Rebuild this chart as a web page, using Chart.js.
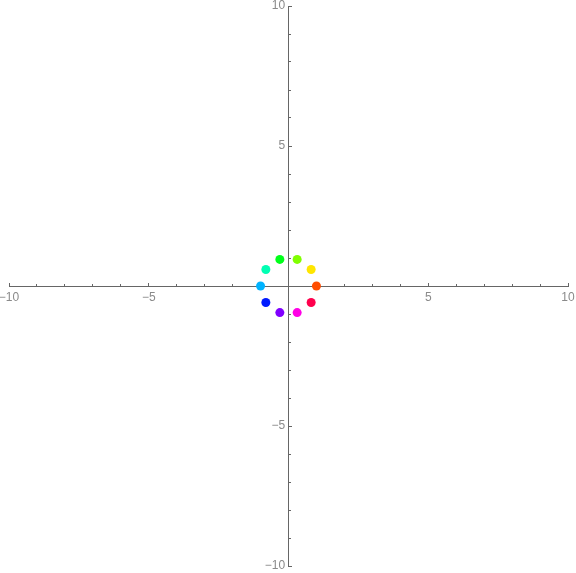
<!DOCTYPE html>
<html>
<head>
<meta charset="utf-8">
<script src="https://cdn.jsdelivr.net/npm/chart.js@4"></script>
<style>
  html, body { margin: 0; padding: 0; background: #fff; }
  #wrap { width: 576px; height: 573px; }
</style>
</head>
<body>
<div id="wrap"><canvas id="plot"></canvas></div>
<script>
// points (10 dots on the unit circle)
const xs = [1, 0.81, 0.31, -0.31, -0.81, -1, -0.81, -0.31, 0.31, 0.81];
const ys = [0, 0.59, 0.95, 0.95, 0.59, 0, -0.59, -0.95, -0.95, -0.59];
const dotColors = ['#ff4d00', '#ffe600', '#80ff00', '#00ff1a', '#00ffb3',
                   '#00b3ff', '#001aff', '#8000ff', '#ff00e6', '#ff004d'];

const axisMin = -10;
const axisMax = 10;
const tickValues = [-10, -5, 5, 10];
const tickLabels = ['\u221210', '\u22125', '5', '10'];

const axisColor = '#666666';
const labelColor = '#8a8a8a';

function labelFor(v, trail) {
    const i = tickValues.indexOf(v);
    return i >= 0 ? tickLabels[i] + trail : '';
}

const points = xs.map((x, i) => ({x: x, y: ys[i]}));

// axes cross at the origin; label padding must not shrink the plot
const noPad = s => { s.paddingLeft = 0; s.paddingRight = 0; s.paddingTop = 0; s.paddingBottom = 0; };

const makeScale = (axis, pos, len, showLabels) => ({
    type: 'linear',
    axis: axis,
    position: pos,
    min: axisMin,
    max: axisMax,
    afterFit: noPad,
    border: {display: showLabels, color: axisColor, width: 1},
    grid: {
        drawOnChartArea: false,
        drawTicks: true,
        tickLength: len,
        tickColor: ctx => (ctx.tick && ctx.tick.value === 0) ? 'rgba(0,0,0,0)' : axisColor,
        tickWidth: 1
    },
    ticks: {
        display: showLabels,
        stepSize: showLabels ? 5 : 1,
        autoSkip: false,
        maxRotation: 0,
        padding: 8,
        color: labelColor,
        font: {family: 'Liberation Sans', size: 12},
        callback: v => labelFor(v, axis === 'y' ? ' ' : '')
    }
});

new Chart(document.getElementById('plot'), {
    type: 'scatter',
    data: {
        datasets: [{
            data: points,
            backgroundColor: dotColors,
            borderWidth: 0,
            pointRadius: 4.5,
            pointHoverRadius: 4.5
        }]
    },
    options: {
        responsive: true,
        maintainAspectRatio: false,
        animation: false,
        layout: {padding: {left: 9, right: 8, top: 6, bottom: 7}},
        plugins: {
            legend: {display: false},
            tooltip: {enabled: false}
        },
        scales: {
            x: makeScale('x', {y: 0}, -4, true),
            x2: makeScale('x', {y: 0}, -2, false),
            y: makeScale('y', {x: 0}, -4, true),
            y2: makeScale('y', {x: 0}, -2, false)
        }
    }
});
</script>
</body>
</html>
